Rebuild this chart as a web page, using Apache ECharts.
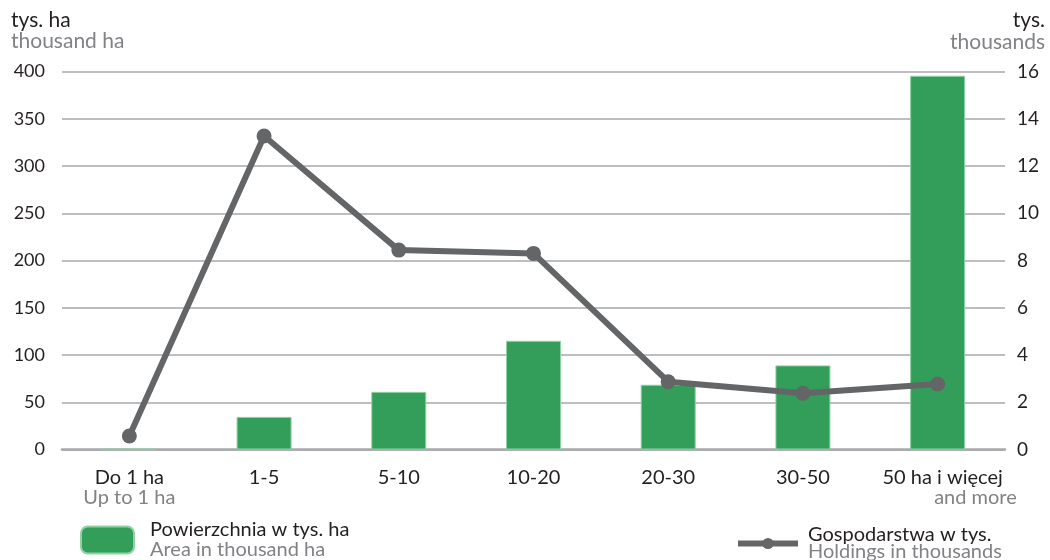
<!DOCTYPE html>
<html><head><meta charset="utf-8">
<script src="https://cdn.jsdelivr.net/npm/echarts@6/dist/echarts.min.js"></script>
<style>html,body{margin:0;padding:0;background:#fff}#c{width:1050px;height:560px}</style>
</head><body><div id="c"></div>
<script>
var categoriesPL = ['Do 1 ha','1-5','5-10','10-20','20-30','30-50','50 ha i więcej'];
var categoriesEN = ['Up to 1 ha','','','','','','and more'];
var areaValues = [0.8, 34.5, 61, 115, 68.5, 89, 395.5];
var holdingsValues = [0.57, 13.27, 8.44, 8.3, 2.87, 2.38, 2.77];
var leftTicks = [0, 400, 50];
var rightTicks = [0, 16, 2];

var FONT = 'Lato';
var DARK = '#231f20', GREY = '#808285';
var TS = 20;
function t(text, color, pos){
  return Object.assign({text: text, textStyle: {fontFamily: FONT, fontSize: 21, fontWeight: 'normal', color: color}}, pos);
}
var chart = echarts.init(document.getElementById('c'));
chart.setOption({
  animation: false,
  textStyle: {fontFamily: FONT},
  title: [
    t('tys. ha', DARK, {left: 6, top: 5}),
    t('thousand ha', GREY, {left: 6, top: 26}),
    t('tys.', DARK, {right: 0, top: 5}),
    t('thousands', GREY, {right: 0, top: 27})
  ],
  grid: {left: 62, right: 45, top: 71.5, bottom: 110.5, containLabel: false},
  legend: [
    {data: ['Powierzchnia w tys. ha'], left: 75, top: 515, itemWidth: 53, itemHeight: 27,
     formatter: function(){return '{a|Powierzchnia w tys. ha}\n{b|Area in thousand ha}';},
     textStyle: {padding: [0,0,0,11], rich: {
       a: {fontFamily: FONT, fontSize: TS, color: DARK, lineHeight: 20},
       b: {fontFamily: FONT, fontSize: TS, color: GREY, lineHeight: 20}}}},
    {data: ['Gospodarstwa w tys.'], left: 730, top: 520, itemWidth: 60, itemHeight: 14,
     lineStyle: {width: 6, color: '#636567'},
     formatter: function(){return '{a|Gospodarstwa w tys.}\n{b|Holdings in thousands}';},
     textStyle: {padding: [0,0,0,5], rich: {
       a: {fontFamily: FONT, fontSize: TS, color: DARK, lineHeight: 17},
       b: {fontFamily: FONT, fontSize: TS, color: GREY, lineHeight: 17}}}}
  ],
  xAxis: {
    type: 'category', data: categoriesPL,
    axisLine: {lineStyle: {color: '#a7a9ac', width: 2.5}},
    axisTick: {show: false},
    axisLabel: {margin: 18, interval: 0,
      formatter: function(v, i){
        var en = categoriesEN[i];
        if (!en) return '{a|' + v + '}';
        if (i === categoriesEN.length - 1) return '{p| }{a|' + v + '}{q| }\n{c|' + en + '}';
        return '{a|' + v + '}\n{b|' + en + '}';
      },
      rich: {
        a: {fontFamily: FONT, fontSize: TS, color: DARK, lineHeight: 20},
        b: {fontFamily: FONT, fontSize: TS, color: GREY, lineHeight: 20},
        c: {fontFamily: FONT, fontSize: TS, color: GREY, lineHeight: 20, align: 'right'},
        p: {fontSize: TS, width: 24, lineHeight: 20},
        q: {fontSize: TS, width: 14, lineHeight: 20}
      }}
  },
  yAxis: [
    {type: 'value', min: leftTicks[0], max: leftTicks[1], interval: leftTicks[2],
     axisLine: {show: false}, axisTick: {show: false},
     axisLabel: {margin: 17, fontFamily: FONT, fontSize: 18, color: DARK},
     splitLine: {lineStyle: {color: '#a7a9ac', width: 1.5}}},
    {type: 'value', min: rightTicks[0], max: rightTicks[1], interval: rightTicks[2],
     axisLine: {show: false}, axisTick: {show: false},
     axisLabel: {margin: 12, fontFamily: FONT, fontSize: 19, color: DARK},
     splitLine: {show: false}}
  ],
  series: [
    {name: 'Powierzchnia w tys. ha', type: 'bar', data: areaValues, barWidth: 55, yAxisIndex: 0,
     itemStyle: {color: '#339e5a', borderColor: '#8fd1a3', borderWidth: 1}},
    {name: 'Gospodarstwa w tys.', type: 'line', data: holdingsValues, yAxisIndex: 1,
     symbol: 'circle', symbolSize: 15, z: 5,
     lineStyle: {color: '#636567', width: 6},
     itemStyle: {color: '#636567'}}
  ]
});
</script></body></html>
